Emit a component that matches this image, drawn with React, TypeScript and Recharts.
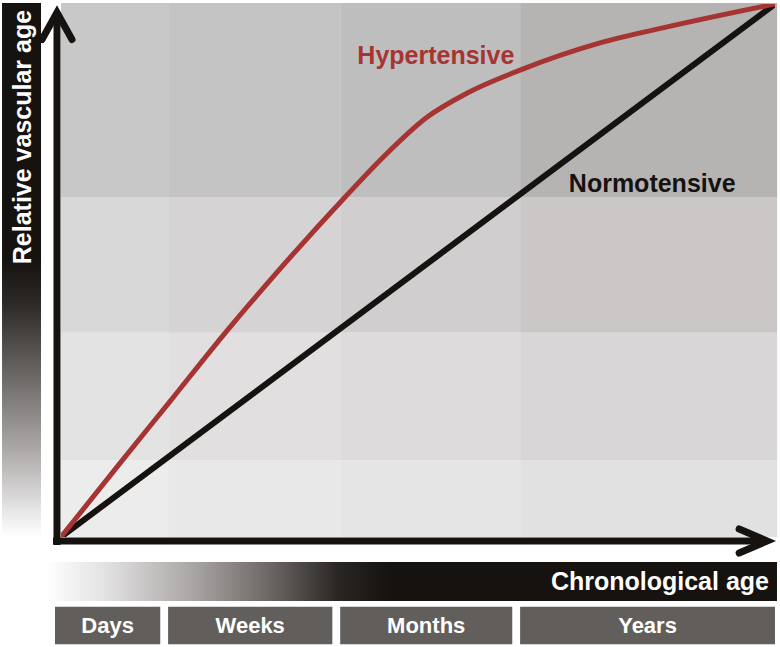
import { ComposedChart, Line, XAxis, YAxis, ReferenceArea, ReferenceLine, ReferenceDot } from "recharts";

const FONT = '"Liberation Sans", Arial, Helvetica, sans-serif';
const INK = "#15120f";
const RED = "#a63432";

// chronological periods and where they split the x axis (0-100)
const periods = ["Days", "Weeks", "Months", "Years"];
const periodBounds = [0, 15, 39.1, 64.3, 100];
// vascular age bands on the y axis (0-100)
const vascularBounds = [0, 14.4, 38.3, 63.8, 100];

// curves
const ageX = [0, 8.3, 15.3, 23.0, 29.3, 39.8, 44.7, 51.3, 56.9, 64.3, 75.5, 84.9, 100];
const hypertensiveAge = [0, 13.9, 25.5, 38.3, 48.2, 63.8, 70.7, 78.8, 83.3, 87.6, 92.7, 95.7, 100];
const normotensiveX = [0, 100];
const normotensiveAge = [0, 100];

// cell shades, bottom row first, left to right
const shades = [
  ["#ececec", "#e9e8e8", "#e6e5e5", "#e2e1e1"],
  ["#e4e3e3", "#e1dfdf", "#dddbdb", "#d8d6d6"],
  ["#d9d8d8", "#d5d3d3", "#d0cece", "#cac7c6"],
  ["#c9c8c8", "#c5c4c4", "#bfbebe", "#b6b4b3"],
];

const hyperData = ageX.map((x, i) => ({ x, y: hypertensiveAge[i] }));
const normoData = normotensiveX.map((x, i) => ({ x, y: normotensiveAge[i] }));

const yArrow = (p: any) => (
  <g>
    <line x1={p.x1} y1={p.y1} x2={p.x2} y2={p.y2} stroke={INK} strokeWidth={7} />
    <polyline
      points={`${p.x2 - 15},${p.y2 + 27} ${p.x2},${p.y2} ${p.x2 + 15},${p.y2 + 27}`}
      fill="none" stroke={INK} strokeWidth={7} strokeLinecap="round" strokeLinejoin="miter"
    />
  </g>
);

const xArrow = (p: any) => (
  <g>
    <line x1={p.x1} y1={p.y1} x2={p.x2} y2={p.y2} stroke={INK} strokeWidth={7} />
    <polyline
      points={`${p.x2 - 28},${p.y2 - 12} ${p.x2},${p.y2} ${p.x2 - 28},${p.y2 + 12}`}
      fill="none" stroke={INK} strokeWidth={7} strokeLinecap="round" strokeLinejoin="miter"
    />
  </g>
);

const vertTitle = (props: any) => {
  const { x, y, width } = props.viewBox;
  const cx = x + width / 2;
  const ty = y + 7;
  return (
    <text
      x={cx} y={ty} transform={`rotate(-90 ${cx} ${ty})`}
      textAnchor="end" dominantBaseline="central"
      fill="#fff" fontSize={25} fontWeight={700} fontFamily={FONT}
    >
      Relative vascular age
    </text>
  );
};

export default function App() {
  return (
    <div style={{ position: "absolute", left: 0, top: 0, width: 780, height: 647, background: "#fff" }}>
      <ComposedChart width={780} height={647} margin={{ top: 4, right: 5, bottom: 110, left: 61 }}>
        <defs>
          <linearGradient id="gradV" x1="0" y1="0" x2="0" y2="1">
            <stop offset="0%" stopColor={INK} />
            <stop offset="48%" stopColor={INK} />
            <stop offset="56%" stopColor="#2c2826" />
            <stop offset="70%" stopColor="#6c6866" />
            <stop offset="83%" stopColor="#a9a5a4" />
            <stop offset="95%" stopColor="#e6e6e6" />
            <stop offset="100%" stopColor="#ffffff" />
          </linearGradient>
          <linearGradient id="gradH" x1="0" y1="0" x2="1" y2="0">
            <stop offset="0%" stopColor="#ffffff" />
            <stop offset="8%" stopColor="#e4e3e3" />
            <stop offset="21%" stopColor="#a5a1a0" />
            <stop offset="31%" stopColor="#6a6562" />
            <stop offset="40%" stopColor="#2a2624" />
            <stop offset="47%" stopColor={INK} />
            <stop offset="100%" stopColor={INK} />
          </linearGradient>
        </defs>
        <XAxis type="number" dataKey="x" domain={[0, 100]} allowDataOverflow hide />
        <YAxis type="number" dataKey="y" domain={[0, 100]} allowDataOverflow hide />

        {shades.map((row, r) =>
          row.map((fill, c) => (
            <ReferenceArea
              key={`cell-${r}-${c}`}
              x1={periodBounds[c]}
              x2={c === 3 ? 100.3 : periodBounds[c + 1]}
              y1={vascularBounds[r]}
              y2={r === 3 ? 100.2 : vascularBounds[r + 1]}
              fill={fill}
              fillOpacity={1}
              ifOverflow="visible"
            />
          ))
        )}

        {/* side gradient bar */}
        <ReferenceArea
          x1={-8.26} x2={-2.8} y1={0} y2={100.2}
          fill="url(#gradV)" fillOpacity={1} ifOverflow="visible"
          label={vertTitle}
        />
        {/* bottom gradient bar */}
        <ReferenceArea
          x1={-2.24} x2={100.28} y1={-4.69} y2={-12.0}
          fill="url(#gradH)" fillOpacity={1} ifOverflow="visible"
          label={{ value: "Chronological age", position: "insideRight", offset: 8, fill: "#fff", fontSize: 25, fontWeight: 700, fontFamily: FONT }}
        />
        {periods.map((p, i) => (
          <ReferenceArea
            key={p}
            x1={i === 0 ? -0.84 : periodBounds[i]}
            x2={i === 3 ? periodBounds[i + 1] : periodBounds[i + 1] - 1.1}
            y1={-13.1}
            y2={-20.1}
            fill="#625e5b"
            fillOpacity={1}
            ifOverflow="visible"
            label={{ value: p, position: "center", fill: "#fff", fontSize: 22, fontWeight: 700, fontFamily: FONT }}
          />
        ))}

        <Line data={normoData} dataKey="y" type="linear" stroke={INK} strokeWidth={6} dot={false} isAnimationActive={false} />
        <Line data={hyperData} dataKey="y" type="monotone" stroke={RED} strokeWidth={5} dot={false} isAnimationActive={false} />

        <ReferenceLine segment={[{ x: -0.56, y: -1.5 }, { x: -0.56, y: 98.4 }]} ifOverflow="visible" shape={yArrow} />
        <ReferenceLine segment={[{ x: -1.12, y: -0.75 }, { x: 98.9, y: -0.75 }]} ifOverflow="visible" shape={xArrow} />

        <ReferenceDot x={52.5} y={90.4} r={0} fill="none" stroke="none"
          label={{ value: "Hypertensive", position: "center", fill: RED, fontSize: 25, fontWeight: 700, fontFamily: FONT }} />
        <ReferenceDot x={82.8} y={66.4} r={0} fill="none" stroke="none"
          label={{ value: "Normotensive", position: "center", fill: INK, fontSize: 25, fontWeight: 700, fontFamily: FONT }} />
      </ComposedChart>
    </div>
  );
}
